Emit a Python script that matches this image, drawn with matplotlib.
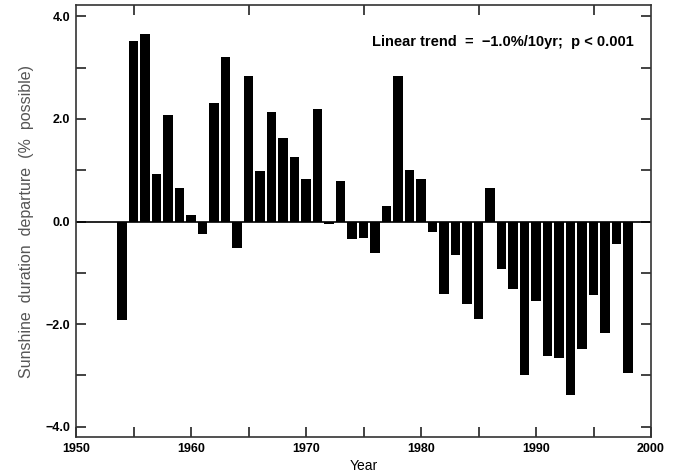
import matplotlib
matplotlib.use("Agg")
import matplotlib.pyplot as plt
from matplotlib.ticker import MultipleLocator

years = list(range(1954, 1999))
departure = [
    -1.92, 3.52, 3.65, 0.93, 2.07, 0.65, 0.13, -0.24, 2.31, 3.20,
    -0.51, 2.83, 0.99, 2.14, 1.62, 1.25, 0.82, 2.20, -0.05, 0.78,
    -0.34, -0.33, -0.61, 0.31, 2.83, 1.00, 0.83, -0.20, -1.41, -0.65,
    -1.61, -1.90, 0.65, -0.93, -1.31, -3.00, -1.55, -2.63, -2.66, -3.39,
    -2.48, -1.44, -2.17, -0.44, -2.96,
]
x_ticks = [1950, 1960, 1970, 1980, 1990, 2000]
y_ticks = [-4.0, -2.0, 0.0, 2.0, 4.0]

plt.rcParams["font.family"] = ["Liberation Sans", "DejaVu Sans"]

fig = plt.figure(figsize=(6.76, 4.76), dpi=100)
ax = fig.add_axes([76 / 676, 1 - 437 / 476, 575 / 676, 432 / 476])

ax.bar(years, departure, width=0.85, color="black", align="center")
ax.axhline(0, color="black", linewidth=1.2)

ax.set_xlim(1950, 2000)
ax.set_ylim(-4.2, 4.22)
ax.set_xticks(x_ticks)
ax.set_xticklabels([str(v) for v in x_ticks], fontweight="bold", fontsize=9)
ax.xaxis.set_minor_locator(MultipleLocator(5))
ax.set_yticks(y_ticks)
ax.set_yticklabels([f"{v:.1f}".replace("-", "\u2212") for v in y_ticks],
                   fontweight="bold", fontsize=9)
ax.yaxis.set_minor_locator(MultipleLocator(1))

ax.tick_params(which="both", direction="in", top=True, right=True,
               width=1.2, color="#222222")
ax.tick_params(which="major", length=7, pad=4)
ax.tick_params(which="minor", length=7)
ax.tick_params(axis="x", which="major", top=False)
for side in ax.spines.values():
    side.set_linewidth(1.2)
    side.set_color("#333333")

ax.set_xlabel("Year", fontsize=10, labelpad=3)
ax.set_ylabel("Sunshine  duration  departure  (%  possible)", fontsize=11.5,
              color="#555555", labelpad=8)

ax.text(0.97, 0.915, "Linear trend  =  \u22121.0%/10yr;  p < 0.001",
        transform=ax.transAxes, ha="right", va="center",
        fontsize=10.5, fontweight="bold")

fig.savefig("out.png", dpi=100)
